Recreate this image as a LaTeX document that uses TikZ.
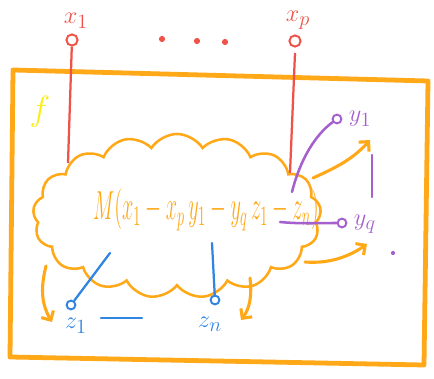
\documentclass[tikz,border=0pt]{standalone}
\usepackage{tikz}
\usetikzlibrary{arrows.meta,shapes.symbols}
\definecolor{CrayonOrange}{RGB}{255,168,24}
\definecolor{CrayonRed}{RGB}{238,82,72}
\definecolor{CrayonPurple}{RGB}{166,96,206}
\definecolor{CrayonBlue}{RGB}{48,132,226}
\definecolor{CrayonYellow}{RGB}{250,238,20}

\begin{document}
\begin{tikzpicture}[
      x=0.025cm,y=-0.025cm,
      frameLine/.style={draw=CrayonOrange,line width=3.4pt,line join=round,line cap=round},
      cloudBox/.style={cloud,draw=CrayonOrange,line width=1.8pt,cloud puffs=17,
                       cloud puff arc=115,aspect=1.8,inner sep=0pt,
                       minimum width=7.2cm,minimum height=4.1cm},
      inDot/.style={circle,draw=CrayonRed,line width=1.4pt,minimum size=0.28cm,inner sep=0pt},
      inLine/.style={draw=CrayonRed,line width=1.6pt},
      inLabel/.style={text=CrayonRed,font=\fontsize{19}{21}\selectfont},
      outDot/.style={circle,draw=CrayonPurple,line width=1.4pt,minimum size=0.22cm,inner sep=0pt},
      outLine/.style={draw=CrayonPurple,line width=1.8pt,line cap=round},
      outLabel/.style={text=CrayonPurple,font=\fontsize{19}{21}\selectfont},
      stDot/.style={circle,draw=CrayonBlue,line width=1.4pt,minimum size=0.22cm,inner sep=0pt},
      stLine/.style={draw=CrayonBlue,line width=1.6pt,line cap=round},
      stLabel/.style={text=CrayonBlue,font=\fontsize{19}{21}\selectfont},
      flowArrow/.style={-{Straight Barb[length=5pt,width=10pt]},draw=CrayonOrange,
                        line width=2.2pt,line cap=round}
    ]
    \useasboundingbox (0,0) rectangle (434,379);

    % Outer box of f
    \draw[frameLine] (13,70) -- (428,81) -- (424,365) -- (10,357) -- cycle;
    \node (fName)[text=CrayonYellow,font=\fontsize{46}{48}\selectfont] at (40,112) {$f$};

    % Cloud and its content
    \node (cloudM)[cloudBox] at (177,216) {};
    \node (mText)[text=CrayonOrange,font=\fontsize{14}{16}\selectfont] at (206,210)
      {\scalebox{1}[2]{$M(x_1 - x_p\,y_1 - y_q\,z_1 - z_n)$}};

    % Inputs
    \node (x1Lab)[inLabel] at (76,21) {$x_1$};
    \node (x1Dot)[inDot] at (72,40) {};
    \node (xpLab)[inLabel] at (298,20) {$x_p$};
    \node (xpDot)[inDot] at (295,41) {};
    \coordinate (x1End) at (68,163);
    \coordinate (xpTop) at (295,53);
    \coordinate (xpEnd) at (290,173);
    \draw[inLine] (x1Dot) -- (x1End);
    \draw[inLine] (xpTop) -- (xpEnd);
    \foreach \px/\py in {162/39,197/41,225/42}
      \fill[CrayonRed] (\px,\py) circle (2.2pt);

    % Outputs
    \node (y1Dot)[outDot] at (337,119) {};
    \node (y1Lab)[outLabel,anchor=west] at (344,119) {$y_1$};
    \node (yqDot)[outDot] at (342,223) {};
    \node (yqLab)[outLabel,anchor=west] at (349,224) {$y_q$};
    \coordinate (y1Start) at (292,192);
    \coordinate (yqStart) at (280,222);
    \draw[outLine] (y1Start) .. controls (300,160) and (315,135) .. (y1Dot);
    \draw[outLine] (yqStart) .. controls (300,224) and (320,223) .. (yqDot);
    \draw[outLine] (372,155) -- (372,197);
    \fill[CrayonPurple] (393,253) circle (1.5pt);

    % State
    \node (z1Dot)[stDot] at (71,305) {};
    \node (z1Lab)[stLabel] at (76,326) {$z_1$};
    \node (znDot)[stDot] at (215,300) {};
    \node (znLab)[stLabel] at (210,324) {$z_n$};
    \coordinate (z1Start) at (110,253);
    \coordinate (znStart) at (212,243);
    \draw[stLine] (z1Start) -- (z1Dot);
    \draw[stLine] (znStart) -- (znDot);
    \draw[stLine] (101,318) -- (142,318);

    % Flow arrows out of the cloud
    \coordinate (aY1) at (313,178);
    \coordinate (aYq) at (305,262);
    \coordinate (aZl) at (46,266);
    \coordinate (aZr) at (250,278);
    \draw[flowArrow] (aY1) .. controls (335,168) and (352,160) .. (370,140);
    \draw[flowArrow] (aYq) .. controls (330,264) and (350,256) .. (367,244);
    \draw[flowArrow] (aZl) .. controls (40,290) and (42,305) .. (52,322);
    \draw[flowArrow] (aZr) .. controls (252,295) and (250,308) .. (241,320);
  \end{tikzpicture}
\end{document}
